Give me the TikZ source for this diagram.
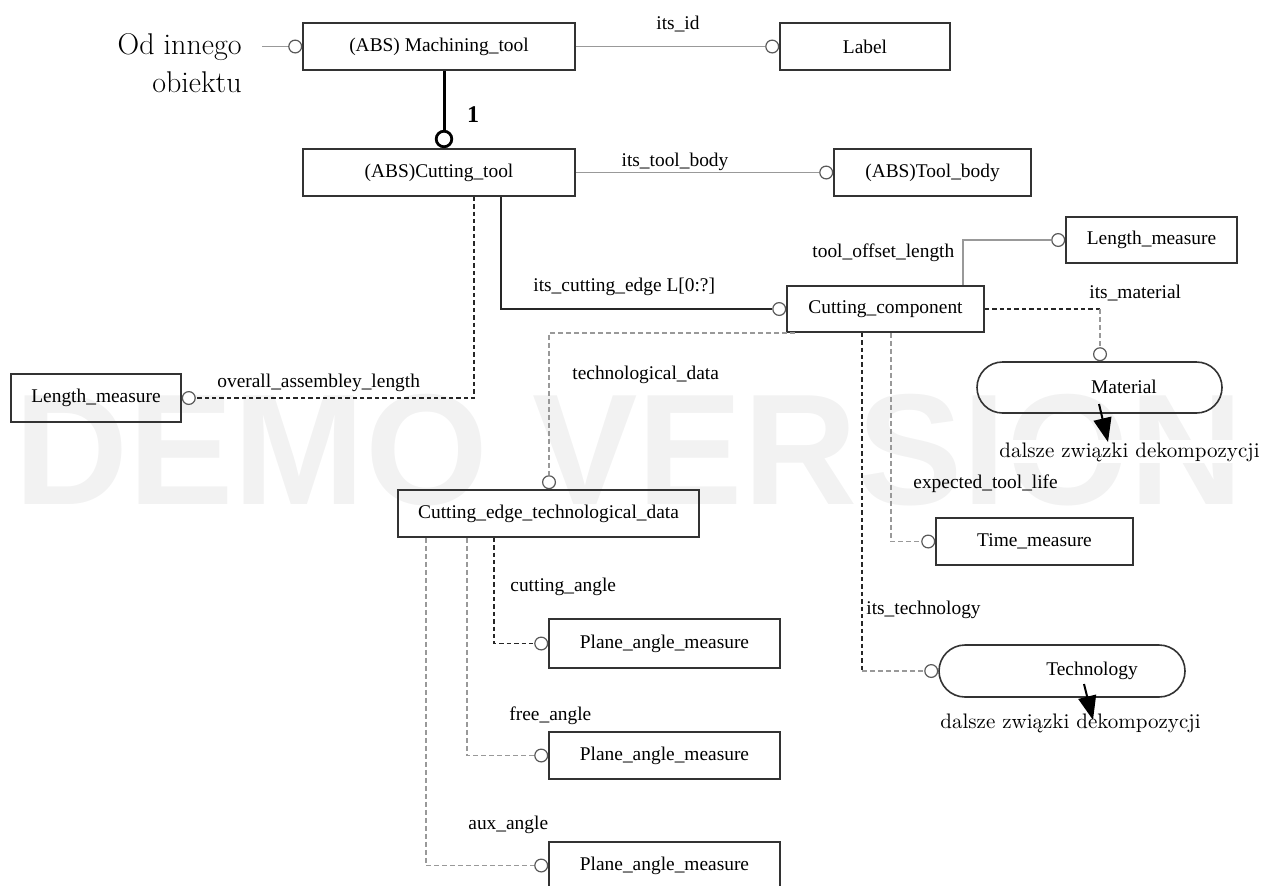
\documentclass[tikz,border=0pt]{standalone}
\usepackage{fontspec}
\newfontfamily\tnr{Liberation Serif}
\newfontfamily\wmf{Liberation Sans}
\usetikzlibrary{arrows.meta,shapes.misc}
\begin{document}
\begin{tikzpicture}[x=0.5pt,y=-0.5pt,
 box/.style={draw=black!80, line width=0.8pt, inner sep=0, font=\tnr\fontsize{9.7}{11}\selectfont},
 rbox/.style={box, rounded rectangle},
 ring/.style={circle, draw=black!65, fill=white, line width=0.6pt, minimum size=6.4pt, inner sep=0},
 bigring/.style={circle, draw=black, fill=white, line width=1.4pt, minimum size=7.8pt, inner sep=0},
 gline/.style={draw=black!40, line width=0.9pt},
 bline/.style={draw=black!85, line width=0.7pt},
 bdash/.style={bline, line width=0.6pt, dash pattern=on 2.2pt off 1.5pt},
 gdash/.style={gline, line width=0.8pt, dash pattern=on 2.5pt off 1.5pt},
 lbl/.style={font=\tnr\fontsize{9.7}{11}\selectfont, inner sep=0, anchor=base west},
 ovl/.style={font=\fontsize{10.5}{12}\selectfont, inner sep=1pt, anchor=base west, fill=white},
 bigt/.style={font=\fontsize{15}{18}\selectfont, inner sep=0, anchor=base east},
 darrow/.style={-{Triangle[length=12pt,width=9pt]}, line width=1pt},
]
\clip (0,0) rectangle (1272,885);
% watermark
\node[font=\wmf\bfseries\fontsize{79}{82}\selectfont, text=black!5, inner sep=0] (wm) at (629,450) {DEMO VERSION};

% x helper coordinates
\coordinate (x444) at (444,0);
\coordinate (x474) at (474,0);
\coordinate (x501) at (501,0);
\coordinate (x963) at (963,0);
\coordinate (x1100) at (1100,0);
\coordinate (x795) at (795,0);
\coordinate (x549) at (549,0);
\coordinate (x891) at (891,0);
\coordinate (x862) at (862,0);
\coordinate (x494) at (494,0);
\coordinate (x467) at (467,0);
\coordinate (x426) at (426,0);

% boxes
\node[box, minimum width=136pt, minimum height=23.5pt] (mt) at (439,46.5) {(ABS) Machining\_tool};
\node[box, minimum width=85pt, minimum height=23.5pt] (lab) at (865,46.5) {Label};
\node[box, minimum width=136pt, minimum height=23.5pt] (ct) at (439,172.5) {(ABS)Cutting\_tool};
\node[box, minimum width=98.5pt, minimum height=23.5pt] (tb) at (932.5,172.5) {(ABS)Tool\_body};
\node[box, minimum width=85.5pt, minimum height=23pt] (lm1) at (1151.5,240) {Length\_measure};
\node[box, minimum width=98.5pt, minimum height=23pt] (cc) at (885.5,309) {Cutting\_component};
\node[rbox, minimum width=122.5pt, minimum height=25.5pt] (mat) at (1099.5,387.5) {};
\node[lbl, anchor=center] (matt) at (1124,387) {Material};
\node[box, minimum width=85pt, minimum height=24pt] (lm2) at (96,398) {Length\_measure};
\node[box, minimum width=150.5pt, minimum height=23.5pt] (cetd) at (548.5,513.5) {Cutting\_edge\_technological\_data};
\node[box, minimum width=98.5pt, minimum height=23.5pt] (tm) at (1034.5,541.5) {Time\_measure};
\node[rbox, minimum width=123pt, minimum height=26pt] (tech) at (1062,671) {};
\node[lbl, anchor=center] (techt) at (1092,671) {Technology};
\node[box, minimum width=115.5pt, minimum height=24.5pt] (p1) at (664.5,643.5) {Plane\_angle\_measure};
\node[box, minimum width=115.5pt, minimum height=23.5pt] (p2) at (664.5,755.5) {Plane\_angle\_measure};
\node[box, minimum width=115.5pt, minimum height=23.5pt] (p3) at (664.5,865.5) {Plane\_angle\_measure};

% rings
\node[ring, anchor=east] (r_od) at (mt.west) {};
\node[ring, anchor=east] (r_lab) at (lab.west) {};
\node[bigring, anchor=south] (r_ct) at (x444 |- ct.north) {};
\node[ring, anchor=east] (r_tb) at (tb.west) {};
\node[ring, anchor=east] (r_lm1) at (lm1.west) {};
\node[ring, anchor=east] (r_cc) at (cc.west) {};
\node[ring, anchor=south] (r_mat) at (x1100 |- mat.north) {};
\node[ring, anchor=west] (r_lm2) at (lm2.east) {};
\node[ring, anchor=south] (r_cetd) at (x549 |- cetd.north) {};
\node[ring, anchor=east] (r_tm) at (tm.west) {};
\node[ring, anchor=east] (r_tech) at (tech.west) {};
\node[ring, anchor=east] (r_p1) at (p1.west) {};
\node[ring, anchor=east] (r_p2) at (p2.west) {};
\node[ring, anchor=east] (r_p3) at (p3.west) {};

% connectors
\coordinate (od) at (262,46.5);
\draw[gline] (od) -- (r_od.west);
\draw[gline] (mt.east) -- (r_lab.west);
\node[lbl, anchor=base] (l_id) at (678,29) {its\_id};
\draw[line width=1.5pt] (x444 |- mt.south) -- (r_ct.north);
\node[font=\tnr\bfseries\fontsize{12}{14}\selectfont, inner sep=0, anchor=base] (one) at (473,122) {1};
\draw[gline] (ct.east) -- (r_tb.west);
\node[lbl, anchor=base] (l_tb) at (675,166) {its\_tool\_body};
\draw[bline] (x501 |- ct.south) |- (r_cc.west);
\node[lbl] (l_ce) at (533,291) {its\_cutting\_edge L[0:?]};
\draw[bdash] (x474 |- ct.south) |- (r_lm2.east);
\node[lbl] (l_oal) at (217,387) {overall\_assembley\_length};
\draw[gline] (x963 |- cc.north) |- (r_lm1.west);
\node[lbl] (l_tol) at (812,257) {tool\_offset\_length};
\coordinate (k_mat) at (r_mat.north |- cc.east);
\draw[bdash] (cc.east) -- (k_mat);
\draw[gdash] (k_mat) -- (r_mat.north);
\node[lbl] (l_mat) at (1089,298) {its\_material};
\draw[gdash] (x795 |- cc.south) -| (r_cetd.north);
\node[lbl] (l_td) at (572,379) {technological\_data};
\draw[gdash] (x891 |- cc.south) |- (r_tm.west);
\node[lbl] (l_etl) at (913,488) {expected\_tool\_life};
\coordinate (k_tech) at (x862 |- r_tech.west);
\draw[bdash] (x862 |- cc.south) -- (k_tech);
\draw[gdash] (k_tech) -- (r_tech.west);
\node[lbl] (l_tech) at (866,614) {its\_technology};
\draw[bdash] (x494 |- cetd.south) |- (r_p1.west);
\node[lbl] (l_ca) at (510,591) {cutting\_angle};
\draw[gdash] (x467 |- cetd.south) |- (r_p2.west);
\node[lbl] (l_fa) at (509,720) {free\_angle};
\draw[gdash] (x426 |- cetd.south) |- (r_p3.west);
\node[lbl] (l_aa) at (468,829) {aux\_angle};

% overlay texts
\node[bigt] (od1) at (242,54) {Od innego};
\node[bigt] (od2) at (242,92) {obiektu};
\node[ovl] (d1) at (997,457) {dalsze związki dekompozycji};
\node[ovl] (d2) at (938,728) {dalsze związki dekompozycji};
\coordinate (a1s) at (1099,404);
\coordinate (a1e) at (1108,442);
\draw[darrow] (a1s) -- (a1e);
\coordinate (a2s) at (1084,684);
\coordinate (a2e) at (1093,720);
\draw[darrow] (a2s) -- (a2e);
\end{tikzpicture}
\end{document}
